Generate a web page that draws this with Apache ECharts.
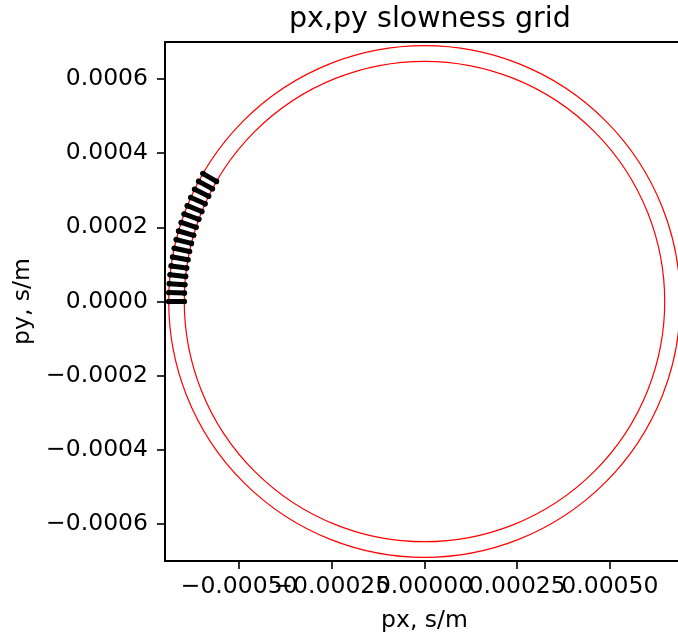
<!DOCTYPE html>
<html>
<head>
<meta charset="utf-8">
<script src="https://cdn.jsdelivr.net/npm/echarts@6/dist/echarts.min.js"></script>
<style>html,body{margin:0;padding:0;background:#fff}#c{width:678px;height:637px}</style>
</head>
<body>
<div id="c"></div>
<script>
// ---- data ----
const circleRadii = [0.000648, 0.00069];           // slowness circles, s/m
const barAngles = [180, 178, 176, 174, 172, 170, 168, 166, 164, 162, 160, 158, 156, 154, 152, 150]; // degrees
const barRadii = [0.000648, 0.00069];               // inner / outer slowness of each grid segment
const xTicksA = [-0.0005, 0, 0.0005];               // x tick labels (set A)
const xTicksB = [-0.00025, 0.00025];                // x tick labels (set B, overlapping neighbours)
const yTicks = [-0.0006, -0.0004, -0.0002, 0, 0.0002, 0.0004, 0.0006];
const xLim = [-0.0007, 0.0007];
const yLim = [-0.0007, 0.0007];

const FONT = 'DejaVu Sans';
const fmt = (v, d) => v.toFixed(d).replace('-', '\u2212');

function xAxisDef(ticks, withName) {
  return {
    type: 'value', min: xLim[0], max: xLim[1], position: 'bottom', offset: 0,
    name: withName ? 'px, s/m' : '', nameLocation: 'middle', nameGap: 48,
    nameTextStyle: {fontFamily: FONT, fontSize: 23.5, color: '#000'},
    axisLine: {show: withName, onZero: false, lineStyle: {color: '#000', width: 1.8}},
    axisTick: {show: true, length: 8, interval: 0, lineStyle: {color: '#000', width: 1.6}, customValues: ticks},
    axisLabel: {fontFamily: FONT, fontSize: 23.5, color: '#000', margin: 14, interval: 0, customValues: ticks,
      showMinLabel: true, showMaxLabel: true, formatter: v => fmt(v, 5), hideOverlap: false},
    splitLine: {show: false}
  };
}

const chart = echarts.init(document.getElementById('c'), null, {renderer: 'canvas'});
chart.setOption({
  animation: false,
  backgroundColor: '#fff',
  title: {
    text: 'px,py slowness grid',
    left: 284, top: 0,
    textStyle: {fontFamily: FONT, fontSize: 28.5, fontWeight: 'normal', color: '#000'}
  },
  grid: {
    left: 165, top: 42, width: 519, height: 519,
    outerBoundsMode: 'none', containLabel: false,
    show: true, borderColor: '#000', borderWidth: 1.8, backgroundColor: 'transparent'
  },
  xAxis: [xAxisDef(xTicksA, true), xAxisDef(xTicksB, false)],
  yAxis: {
    type: 'value', min: yLim[0], max: yLim[1],
    name: 'py, s/m', nameLocation: 'middle', nameGap: 127, nameRotate: 90,
    nameTextStyle: {fontFamily: FONT, fontSize: 23.5, color: '#000'},
    axisLine: {show: true, onZero: false, lineStyle: {color: '#000', width: 1.8}},
    axisTick: {show: true, length: 8, interval: 0, lineStyle: {color: '#000', width: 1.6}, customValues: yTicks},
    axisLabel: {fontFamily: FONT, fontSize: 23.5, color: '#000', margin: 17, interval: 0, customValues: yTicks,
      showMinLabel: true, showMaxLabel: true,
      formatter: v => fmt(v, 4), hideOverlap: false},
    splitLine: {show: false}
  },
  series: [
    {
      type: 'custom',
      coordinateSystem: 'cartesian2d', xAxisIndex: 0, yAxisIndex: 0,
      data: circleRadii.map(r => [r, 0]),
      renderItem: function (params, api) {
        const c = api.coord([0, 0]);
        const r = api.size([api.value(0), 0])[0];
        return {type: 'circle', shape: {cx: c[0], cy: c[1], r: r},
          style: {fill: 'none', stroke: '#ff0000', lineWidth: 1.2}};
      },
      z: 2
    },
    {
      type: 'custom',
      coordinateSystem: 'cartesian2d', xAxisIndex: 0, yAxisIndex: 0,
      data: barAngles.map(a => [a, barRadii[0], barRadii[1]]),
      renderItem: function (params, api) {
        const a = api.value(0) * Math.PI / 180;
        const r1 = api.value(1), r2 = api.value(2);
        const p1 = api.coord([r1 * Math.cos(a), r1 * Math.sin(a)]);
        const p2 = api.coord([r2 * Math.cos(a), r2 * Math.sin(a)]);
        return {type: 'group', children: [
          {type: 'line', shape: {x1: p1[0], y1: p1[1], x2: p2[0], y2: p2[1]},
            style: {stroke: '#000', lineWidth: 5, lineCap: 'round'}},
          {type: 'circle', shape: {cx: p1[0], cy: p1[1], r: 2.8}, style: {fill: '#000'}},
          {type: 'circle', shape: {cx: p2[0], cy: p2[1], r: 2.8}, style: {fill: '#000'}}
        ]};
      },
      z: 3
    }
  ]
});
</script>
</body>
</html>
